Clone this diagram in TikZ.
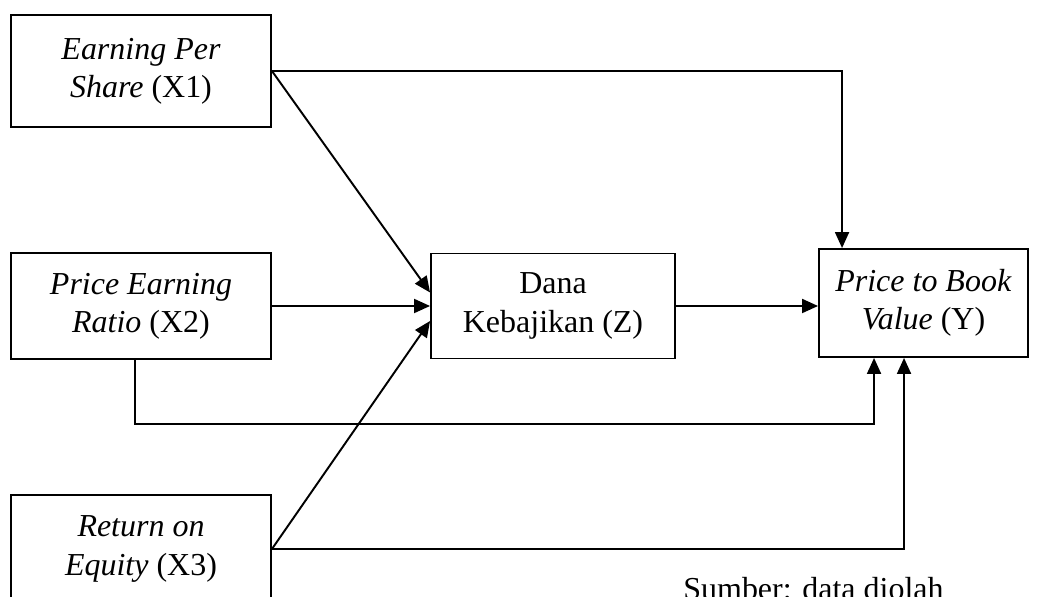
\documentclass[tikz,border=0pt]{standalone}
\usepackage{fontspec}
\setmainfont{Liberation Serif}
\usetikzlibrary{positioning, arrows.meta}
\begin{document}
\begin{tikzpicture}[x=0.02cm, y=-0.02cm,
    var/.style={rectangle, draw, line width=1.1pt, inner sep=0pt, align=center, font=\fontsize{18.2}{21.8}\selectfont},
    link/.style={draw, line width=1.1pt, -{Triangle[length=0.32cm, width=0.28cm]}}]
\clip (0,0) rectangle (1038,597);
\useasboundingbox (0,0) rectangle (1038,597);
\node[var, minimum width=5.2cm, minimum height=2.24cm] (x1) at (141,71) {\textit{Earning Per}\\\textit{Share} (X1)};
\node[var, minimum width=5.2cm, minimum height=2.12cm] (x2) at (141,306) {\textit{Price Earning}\\\textit{Ratio} (X2)};
\node[var, minimum width=5.2cm, minimum height=2.16cm] (x3) at (141,549) {\textit{Return on}\\\textit{Equity} (X3)};
\node[var, minimum width=4.88cm, minimum height=2.1cm] (z) at (553,306) {Dana\\Kebajikan (Z)};
\node[var, minimum width=4.18cm, minimum height=2.16cm] (y) at (923.5,303) {\textit{Price to Book}\\\textit{Value} (Y)};
\node[anchor=base west, inner sep=0pt, font=\fontsize{18.2}{21.8}\selectfont] (src) at (683,600) {Sumber: data diolah};

\draw[link] (x1.east) -| ([xshift=0.48cm]y.north west);
\draw[link] (x1.east) -- ([yshift=0.27cm]z.west);
\draw[link] (x2.east) -- (z.west);
\draw[link] (x3.east) -- ([yshift=-0.3cm]z.west);
\draw[link] (z.east) -- (z.east -| y.west);
\draw[link] ([xshift=-0.12cm]x2.south) -- ++(0,64) -| ([xshift=1.12cm]y.south west);
\draw[link] (x3.east) -| ([xshift=1.72cm]y.south west);
\end{tikzpicture}
\end{document}
